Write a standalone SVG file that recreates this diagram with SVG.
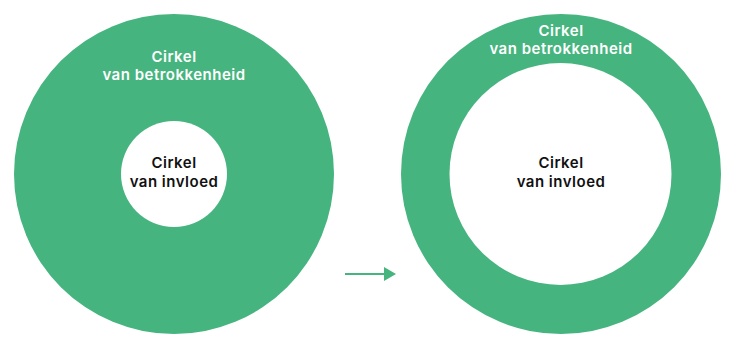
<svg xmlns="http://www.w3.org/2000/svg" width="741" height="348" viewBox="0 0 741 348">
<style>
.g{fill:#45b47e}
.w{fill:#ffffff}
.t{font-family:Inter,"Open Sans","Liberation Sans",sans-serif;font-weight:600;font-size:15px;letter-spacing:0.5px;text-anchor:middle}
.tw{fill:#ffffff}
.tb{fill:#111111}
</style>
<defs>
<marker id="ah" viewBox="0 0 12 14" refX="0" refY="7" markerWidth="12" markerHeight="14" markerUnits="userSpaceOnUse" orient="auto">
<path d="M0,0 L12,7 L0,14 Z" fill="#45b47e"/>
</marker>
</defs>
<rect width="741" height="348" fill="#ffffff"/>
<g id="left-outer">
<circle class="g" cx="174" cy="174" r="160"/>
<text class="t tw" x="174" y="62">Cirkel</text>
<text class="t tw" x="174" y="80">van betrokkenheid</text>
</g>
<g id="left-inner">
<circle class="w" cx="174" cy="174" r="53"/>
<text class="t tb" x="174" y="168">Cirkel</text>
<text class="t tb" x="174" y="187">van invloed</text>
</g>
<g id="right-outer">
<circle class="g" cx="561" cy="174" r="160"/>
<text class="t tw" x="561" y="36">Cirkel</text>
<text class="t tw" x="561" y="54">van betrokkenheid</text>
</g>
<g id="right-inner">
<circle class="w" cx="560.5" cy="174" r="111"/>
<text class="t tb" x="561" y="168">Cirkel</text>
<text class="t tb" x="561" y="187">van invloed</text>
</g>
<g id="connectors">
<line x1="345" y1="274" x2="384" y2="274" stroke="#45b47e" stroke-width="2" marker-end="url(#ah)"/>
</g>
</svg>
